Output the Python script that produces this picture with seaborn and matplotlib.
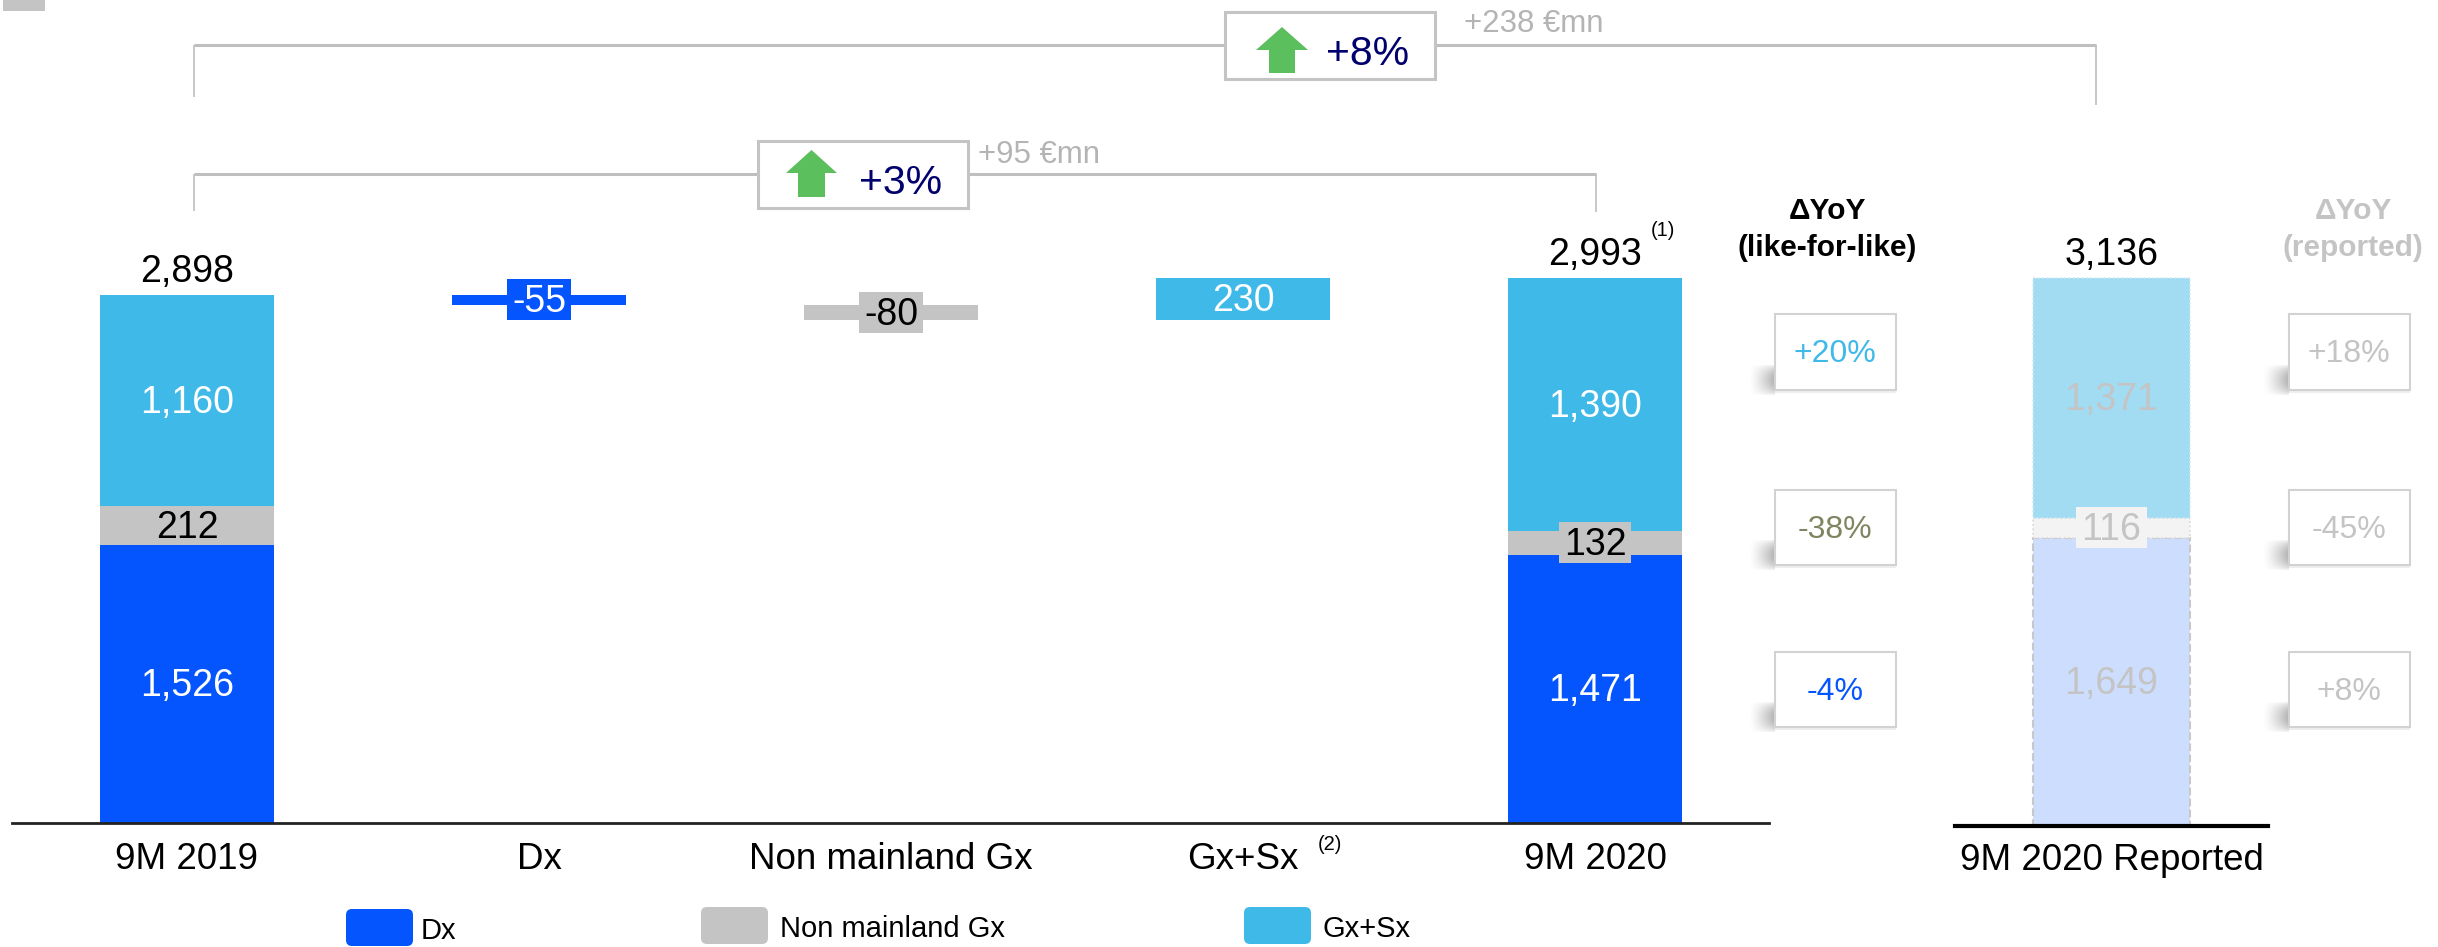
import numpy as np
import pandas as pd
import matplotlib.pyplot as plt
from matplotlib.patches import Rectangle, Polygon, FancyBboxPatch
import seaborn as sns

W, H = 2438, 947

BLUE = "#0555FF"
GREY = "#C4C4C4"
SKY = "#3FB9E8"
BLUE_LIGHT = "#CDDDFE"
GREY_LIGHT = "#F3F3F3"
SKY_LIGHT = "#A2DCF3"
FADED = "#C4C4C4"
NAVY = "#00006E"

# bridge chart values
categories = ["9M 2019", "Dx", "Non mainland Gx", "Gx+Sx", "9M 2020"]
start_dx = 1526
start_nm = 212
start_gs = 1160
start_total = 2898
bridge_steps = [-55, -80, 230]
end_dx = 1471
end_nm = 132
end_gs = 1390
end_total = 2993

# reported column
reported_cat = ["9M 2020 Reported"]
rep_dx = [1649]
rep_nm = [116]
rep_gs = [1371]
rep_total = 3136

yoy_lfl = ["+20%", "-38%", "-4%"]
yoy_lfl_colors = [SKY, "#7F8560", BLUE]
yoy_rep = ["+18%", "-45%", "+8%"]

sns.set_theme(style="white")
plt.rcParams["font.family"] = ["Liberation Sans", "DejaVu Sans"]

fig = plt.figure(figsize=(W / 100, H / 100), dpi=100, facecolor="white")


def px_axes(x0, x1, base):
    ax = fig.add_axes([x0 / W, (H - base) / H, (x1 - x0) / W, base / H])
    ax.patch.set_alpha(0)
    return ax


def draw_stack(ax, cats, heights, bottoms, color, **kw):
    df = pd.DataFrame({"cat": cats, "h": heights, "b": bottoms})
    sns.barplot(data=df, x="cat", y="h", bottom=df["b"].values, order=cats,
                color=color, saturation=1, width=kw.pop("width"), ax=ax, **kw)


def style_axis(ax, ylim, lw, color, pad):
    ax.set_ylim(0, ylim)
    ax.set_xlabel("")
    ax.set_ylabel("")
    ax.set_yticks([])
    sns.despine(ax=ax, left=True)
    ax.spines["bottom"].set_linewidth(lw)
    ax.spines["bottom"].set_color(color)
    ax.tick_params(axis="x", length=0, pad=pad, labelsize=26.5, colors="black")


def value_label(ax, x, y, txt, color, box=None, box_w=0, box_h=0, size=27):
    if box:
        ax.add_patch(Rectangle((x - box_w / 2, y - box_h / 2), box_w, box_h,
                               fc=box, ec="none", zorder=4))
    ax.annotate(txt, (x, y), xytext=(0, 1.2), textcoords="offset points", color=color,
                ha="center", va="center_baseline", fontsize=size, zorder=5)


# main bridge
levels = np.cumsum([start_total] + bridge_steps)
lows = [min(levels[i], levels[i + 1]) for i in range(3)]

dx_h = [start_dx, -bridge_steps[0], 0, 0, end_dx]
dx_b = [0, lows[0], 0, 0, 0]
nm_h = [start_nm, 0, -bridge_steps[1], 0, end_nm]
nm_b = [start_dx, 0, lows[1], 0, end_dx]
gs_h = [start_gs, 0, 0, bridge_steps[2], end_gs]
gs_b = [start_dx + start_nm, 0, 0, lows[2], end_dx + end_nm]

PX = 0.1822  # pixels per unit, main chart
STEP = 352.0

ax = px_axes(11.5, 1769.5, 823)
for h, b, c in [(dx_h, dx_b, BLUE), (nm_h, nm_b, GREY), (gs_h, gs_b, SKY)]:
    draw_stack(ax, categories, h, b, c, width=0.494, linewidth=0)
style_axis(ax, 823 / PX, 2.0, "#222222", 13.5)
ax.set_xlim((11.5 - 187) / STEP, (1769.5 - 187) / STEP)

for i in (0, 4):
    value_label(ax, i, dx_b[i] + dx_h[i] / 2, f"{dx_h[i]:,}", "white")
    value_label(ax, i, gs_b[i] + gs_h[i] / 2, f"{gs_h[i]:,}", "white")
value_label(ax, 0, nm_b[0] + nm_h[0] / 2, f"{nm_h[0]:,}", "black")
value_label(ax, 4, nm_b[4] + nm_h[4] / 2, f"{nm_h[4]:,}", "black", GREY, 72 / STEP, 41 / PX)
value_label(ax, 1, dx_b[1] + dx_h[1] / 2, str(bridge_steps[0]), "white", BLUE, 64 / STEP, 41 / PX)
value_label(ax, 2, nm_b[2] + nm_h[2] / 2, str(bridge_steps[1]), "black", GREY, 64 / STEP, 41 / PX)
value_label(ax, 3, gs_b[3] + gs_h[3] / 2, str(bridge_steps[2]), "white")
value_label(ax, 0, start_total + 26 / PX * 0.97, f"{start_total:,}", "black")
value_label(ax, 4, end_total + 26 / PX * 0.97, f"{end_total:,}", "black")

# reported column
PX2 = 0.1747
ax2 = px_axes(1955, 2268, 826)
draw_stack(ax2, reported_cat, rep_dx, [0], BLUE_LIGHT, width=157 / 313,
           edgecolor="#C8C8C8", linewidth=1.5, linestyle="--")
draw_stack(ax2, reported_cat, rep_nm, [rep_dx[0]], GREY_LIGHT, width=157 / 313,
           edgecolor="#D8D8D8", linewidth=1.2, linestyle=":")
draw_stack(ax2, reported_cat, rep_gs, [rep_dx[0] + rep_nm[0]], SKY_LIGHT, width=157 / 313,
           edgecolor="#D0E8F4", linewidth=1.2, linestyle=":")
style_axis(ax2, 826 / PX2, 3.0, "black", 12.5)
ax2.set_xlim(-0.5, 0.5)
value_label(ax2, 0, rep_dx[0] / 2, f"{rep_dx[0]:,}", FADED)
value_label(ax2, 0, rep_dx[0] + rep_nm[0] / 2, f"{rep_nm[0]:,}", FADED, GREY_LIGHT, 71 / 313, 41 / PX2)
value_label(ax2, 0, rep_dx[0] + rep_nm[0] + rep_gs[0] / 2, f"{rep_gs[0]:,}", FADED)
value_label(ax2, 0, rep_total + 26 / PX2 * 0.97, f"{rep_total:,}", "black")

# overlay in pixel coordinates for the annotation furniture
ov = fig.add_axes([0, 0, 1, 1], zorder=10)
ov.patch.set_alpha(0)
ov.axis("off")


def shadow(x_right, y_bottom):
    ny, nx = 30, 34
    xs = np.linspace(0, 1, nx)
    ys = np.sin(np.linspace(0, 1, ny) * np.pi) ** 0.7
    alpha = 0.6 * np.outer(ys, xs ** 1.3)
    img = np.zeros((ny, nx, 4))
    img[..., :3] = 0.5
    img[..., 3] = alpha
    ov.imshow(img, extent=(x_right - 26, x_right, y_bottom + 6, y_bottom - 26),
              aspect="auto", interpolation="bilinear", zorder=1)
    ov.add_patch(Rectangle((x_right, y_bottom), 121, 3, fc="#EEEEEE", ec="none", zorder=1))


def bracket(x0, x1, y, y0, y1):
    ov.plot([x0, x0], [y0, y], color="#BFBFBF", lw=1.2, solid_capstyle="butt", zorder=2)
    ov.plot([x1, x1], [y1, y], color="#BFBFBF", lw=1.2, solid_capstyle="butt", zorder=2)
    ov.plot([x0, x1], [y, y], color="#BFBFBF", lw=2.2, solid_capstyle="butt", zorder=2)


def up_arrow(x0, x1, s0, s1, top, neck, bottom):
    pts = [(s0, bottom), (s0, neck), (x0, neck), ((x0 + x1) / 2, top),
           (x1, neck), (s1, neck), (s1, bottom)]
    ov.add_patch(Polygon(pts, closed=True, fc="#5CBF5E", ec="none", zorder=4))


def note(x, y, txt, color="black", size=25.5, ha="center", **kw):
    ov.text(x, y, txt, color=color, fontsize=size, ha=ha, va="center_baseline", zorder=5, **kw)


ov.add_patch(Rectangle((3, 0), 42, 11, fc=GREY, ec="none"))

bracket(194, 2096, 45, 97, 105)
ov.add_patch(Rectangle((1225, 12), 210, 67, fc="white", ec="#C4C4C4", lw=2.2, zorder=3))
up_arrow(1256, 1308, 1269, 1295, 27, 50, 73)
note(1368, 50, "+8%", NAVY, 29.5)
note(1534, 20, "+238 €mn", "#B4B4B4", 22.5)

bracket(194, 1596, 174, 211, 212)
ov.add_patch(Rectangle((758, 141), 210, 67, fc="white", ec="#C4C4C4", lw=2.2, zorder=3))
up_arrow(786, 837, 798, 825, 150, 173, 197)
note(901, 179, "+3%", NAVY, 29.5)
note(1039, 151, "+95 €mn", "#B4B4B4", 22.5)

note(1663, 228, "(1)", size=14.5)
note(1330, 842, "(2)", size=14.5)

note(1827, 208, "ΔYoY", size=21.5, weight="bold")
note(1827, 245, "(like-for-like)", size=21.5, weight="bold")
note(2353, 208, "ΔYoY", FADED, 21.5, weight="bold")
note(2353, 245, "(reported)", FADED, 21.5, weight="bold")

box_tops = [314, 490, 652]
box_h = [76, 75, 75]
for top, bh, a, ac, b in zip(box_tops, box_h, yoy_lfl, yoy_lfl_colors, yoy_rep):
    for left, txt, col in [(1775, a, ac), (2289, b, FADED)]:
        shadow(left, top + bh)
        ov.add_patch(Rectangle((left, top), 121, bh, fc="white", ec="#D2D2D2", lw=1.5, zorder=3))
        note(left + 60, top + bh / 2 - 1.5, txt, col, 23)

# legend
legend_items = [("Dx", BLUE, 346, 909, 421), ("Non mainland Gx", GREY, 701, 907, 780), ("Gx+Sx", SKY, 1244, 907, 1322)]
for label, col, x, y, tx in legend_items:
    ov.add_patch(FancyBboxPatch((x + 5, y + 5), 57, 27, boxstyle="round,pad=5,rounding_size=6",
                                fc=col, ec="none"))
    note(tx, y + 19, label, size=21, ha="left")

ov.set_xlim(0, W)
ov.set_ylim(H, 0)

fig.savefig("out.png", dpi=100)
